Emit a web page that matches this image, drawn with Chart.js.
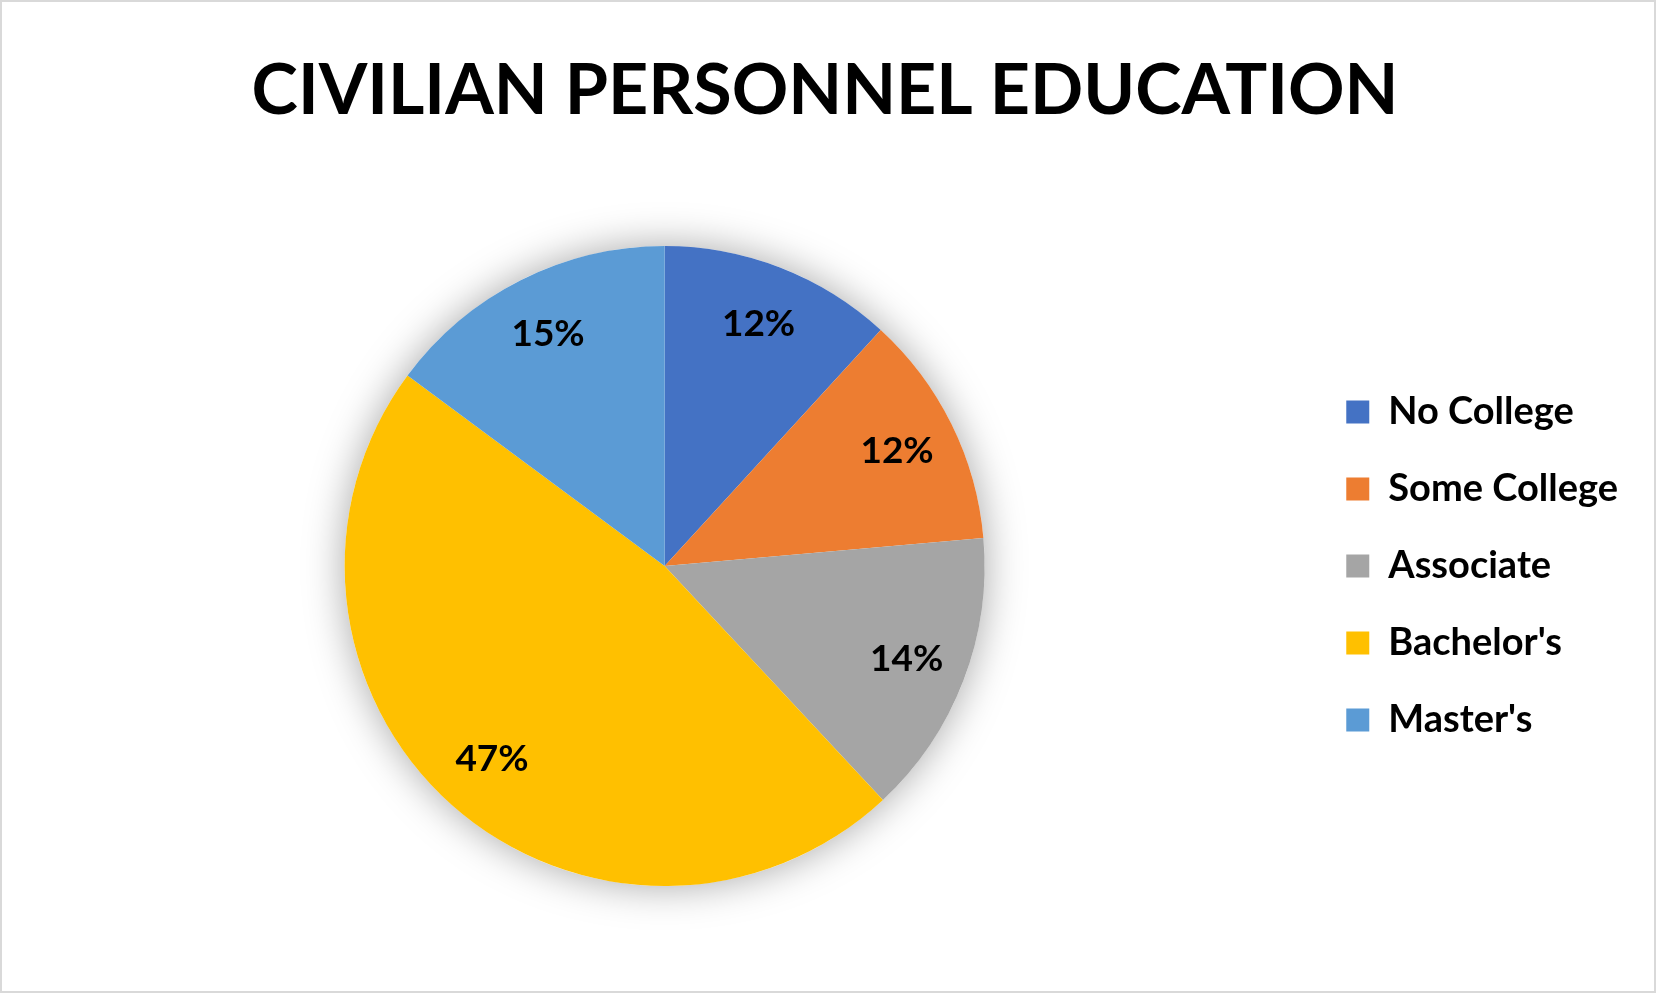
<!DOCTYPE html>
<html>
<head>
<meta charset="utf-8">
<title>Civilian Personnel Education</title>
<script src="https://cdn.jsdelivr.net/npm/chart.js@4"></script>
<style>
  html, body { margin: 0; padding: 0; background: #fff; }
  #frame { width: 1652px; height: 989px; border: 2px solid #d9d9d9; }
  canvas { display: block; }
</style>
</head>
<body>
<div id="frame"><canvas id="pie" width="1652" height="989"></canvas></div>
<script>
const categories = ["No College", "Some College", "Associate", "Bachelor's", "Master's"];
const shares = [11.8, 11.8, 14.45, 47.1, 14.85];
const sliceColors = ["#4472C4", "#ED7D31", "#A5A5A5", "#FFC000", "#5B9BD5"];
const chartTitle = "CIVILIAN PERSONNEL EDUCATION";

const FONT = "Lato, 'Open Sans', sans-serif";

// soft glow under the pie, like the Office shadow effect
const pieShadow = {
  id: "pieShadow",
  beforeDatasetsDraw(chart) {
    const arc = chart.getDatasetMeta(0).data[0];
    if (!arc) return;
    const { x, y, outerRadius } = arc.getProps(["x", "y", "outerRadius"], true);
    const ctx = chart.ctx;
    ctx.save();
    ctx.shadowColor = "rgba(0,0,0,0.35)";
    ctx.shadowBlur = 40;
    ctx.fillStyle = "#fff";
    ctx.beginPath();
    ctx.arc(x, y, outerRadius, 0, Math.PI * 2);
    ctx.fill();
    ctx.restore();
  },
};

// percentage labels inside each slice
const sliceLabels = {
  id: "sliceLabels",
  afterDatasetsDraw(chart) {
    const ctx = chart.ctx;
    const meta = chart.getDatasetMeta(0);
    const data = chart.data.datasets[0].data;
    ctx.save();
    ctx.font = "bold 37px " + FONT;
    ctx.fillStyle = "#000";
    ctx.textAlign = "center";
    ctx.textBaseline = "middle";
    meta.data.forEach((arc, i) => {
      const p = arc.getProps(["x", "y", "startAngle", "endAngle", "outerRadius"], true);
      const mid = (p.startAngle + p.endAngle) / 2;
      const r = p.outerRadius * 0.81;
      ctx.fillText(Math.round(data[i]) + "%", p.x + Math.cos(mid) * r, p.y + Math.sin(mid) * r);
    });
    ctx.restore();
  },
};

new Chart(document.getElementById("pie"), {
  type: "pie",
  data: {
    labels: categories,
    datasets: [{
      data: shares,
      backgroundColor: sliceColors,
      borderWidth: 0,
      radius: 320,
    }],
  },
  options: {
    responsive: false,
    devicePixelRatio: 1,
    animation: false,
    layout: { padding: { left: 20, right: 26, top: 26, bottom: 26 } },
    plugins: {
      tooltip: { enabled: false },
      title: {
        display: true,
        text: chartTitle,
        color: "#000",
        font: { family: FONT, weight: "bold", size: 70 },
        padding: { top: 21, bottom: 34 },
      },
      legend: {
        position: "right",
        fullSize: false,
        labels: {
          color: "#000",
          boxWidth: 23,
          boxHeight: 23,
          padding: 39,
          font: { family: FONT, weight: "bold", size: 38 },
        },
      },
    },
  },
  plugins: [pieShadow, sliceLabels],
});
</script>
</body>
</html>
